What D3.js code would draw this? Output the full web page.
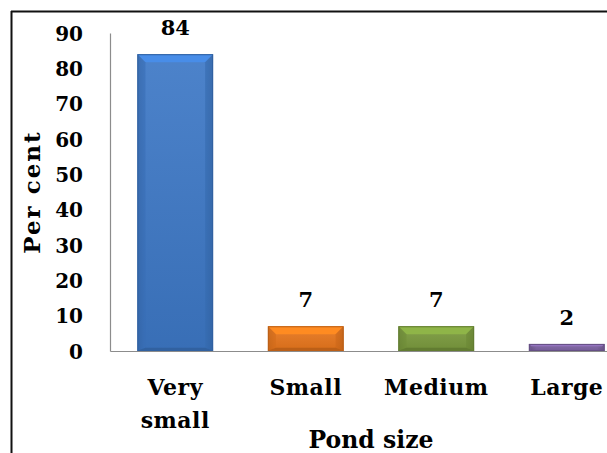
<!DOCTYPE html>
<html>
<head>
<meta charset="utf-8">
<script src="https://cdn.jsdelivr.net/npm/d3@7"></script>
<style>
  html, body { margin: 0; padding: 0; background: #fff; }
  svg { display: block; }
</style>
</head>
<body>
<script>
// Share of ponds by size class (%)
const categories = [["Very", "small"], ["Small"], ["Medium"], ["Large"]];
const values = [84, 7, 7, 2];
const yTicks = [0, 10, 20, 30, 40, 50, 60, 70, 80, 90];
const barColors = ["#3d78c6", "#e8761c", "#7a9a3d", "#7d62a3"];
const yTitle = "Per cent";
const xTitle = "Pond size";

const W = 607, H = 453;
const plot = { left: 110, right: 632, top: 33, bottom: 351 };
const FONT = "'DejaVu Serif', serif";

const svg = d3.select("body").append("svg")
  .attr("width", W).attr("height", H);

const defs = svg.append("defs");

const x = d3.scaleBand()
  .domain(d3.range(values.length))
  .range([plot.left, plot.right])
  .paddingInner(0.42)
  .paddingOuter(0.21);

const y = d3.scaleLinear()
  .domain([0, 90])
  .range([plot.bottom, plot.top]);

// Outer chart frame (top and left edges visible)
svg.append("line").attr("x1", 11).attr("x2", W).attr("y1", 11.5).attr("y2", 11.5)
  .attr("stroke", "#111").attr("stroke-width", 2);
svg.append("line").attr("x1", 11.5).attr("x2", 11.5).attr("y1", 11).attr("y2", H)
  .attr("stroke", "#111").attr("stroke-width", 2);

// Gradients for the bevelled bars
barColors.forEach((c, i) => {
  const base = d3.color(c);
  const g = defs.append("linearGradient").attr("id", "body" + i)
    .attr("x1", 0).attr("x2", 1).attr("y1", 0).attr("y2", 0);
  g.append("stop").attr("offset", "0%").attr("stop-color", base.darker(0.5));
  g.append("stop").attr("offset", "10%").attr("stop-color", base);
  g.append("stop").attr("offset", "90%").attr("stop-color", base);
  g.append("stop").attr("offset", "100%").attr("stop-color", base.darker(0.5));
  const v = defs.append("linearGradient").attr("id", "vert" + i)
    .attr("x1", 0).attr("x2", 0).attr("y1", 0).attr("y2", 1);
  v.append("stop").attr("offset", "0%").attr("stop-color", "#fff").attr("stop-opacity", 0.08);
  v.append("stop").attr("offset", "100%").attr("stop-color", "#000").attr("stop-opacity", 0.08);
});

const bars = svg.append("g").selectAll("g.bar")
  .data(values)
  .join("g").attr("class", "bar");

bars.each(function (d, i) {
  const g = d3.select(this);
  const x0 = x(i), w = x.bandwidth();
  const y0 = y(d), y1 = y(0), h = y1 - y0;
  const b = Math.min(8, h / 3);
  const base = d3.color(barColors[i]);

  g.append("rect").attr("x", x0).attr("y", y0).attr("width", w).attr("height", h)
    .attr("fill", `url(#body${i})`);
  g.append("rect").attr("x", x0).attr("y", y0).attr("width", w).attr("height", h)
    .attr("fill", `url(#vert${i})`);
  // top bevel
  g.append("path")
    .attr("d", `M${x0},${y0}L${x0 + w},${y0}L${x0 + w - b},${y0 + b}L${x0 + b},${y0 + b}Z`)
    .attr("fill", base.brighter(0.45));
  // left and right bevels
  g.append("path")
    .attr("d", `M${x0},${y0}L${x0 + b},${y0 + b}L${x0 + b},${y1 - b * 0.4}L${x0},${y1}Z`)
    .attr("fill", base.darker(0.25)).attr("opacity", 0.6);
  g.append("path")
    .attr("d", `M${x0 + w},${y0}L${x0 + w - b},${y0 + b}L${x0 + w - b},${y1 - b * 0.4}L${x0 + w},${y1}Z`)
    .attr("fill", base.darker(0.35)).attr("opacity", 0.6);
  // bottom bevel
  g.append("path")
    .attr("d", `M${x0},${y1}L${x0 + b},${y1 - b * 0.4}L${x0 + w - b},${y1 - b * 0.4}L${x0 + w},${y1}Z`)
    .attr("fill", base.darker(0.6));
  g.append("rect").attr("x", x0 + 0.5).attr("y", y0 + 0.5).attr("width", w - 1).attr("height", h - 1)
    .attr("fill", "none").attr("stroke", base.darker(0.6)).attr("stroke-width", 1);
});

// Axes
const yAxis = d3.axisLeft(y).tickValues(yTicks).tickSize(0).tickPadding(0);
const yg = svg.append("g").attr("transform", `translate(${plot.left},0)`).call(yAxis)
  .attr("font-family", FONT).attr("font-size", 20).attr("font-weight", "bold");
yg.select(".domain").attr("stroke", "#8c8c8c").attr("stroke-width", 1.2);
yg.selectAll(".tick text")
  .attr("x", 83 - plot.left).attr("dy", "0.36em")
  .attr("fill", "#000");

const xAxis = d3.axisBottom(x).tickSize(0).tickFormat("");
const xg = svg.append("g").attr("transform", `translate(0,${plot.bottom})`).call(xAxis);
xg.select(".domain").attr("stroke", "#8c8c8c").attr("stroke-width", 1.2);

const txt = svg.append("g")
  .attr("font-family", FONT).attr("font-weight", "bold").attr("fill", "#000");

// Category labels
const cat = txt.append("g").selectAll("text")
  .data(categories)
  .join("text")
  .attr("text-anchor", "middle")
  .attr("font-size", 22)
  .attr("letter-spacing", "0.5px")
  .attr("transform", (d, i) => `translate(${x(i) + x.bandwidth() / 2},395)`);
cat.selectAll("tspan")
  .data(d => d)
  .join("tspan")
  .attr("x", 0)
  .attr("y", (d, j) => j * 33)
  .text(d => d);

// Value labels
txt.append("g").selectAll("text")
  .data(values)
  .join("text")
  .attr("text-anchor", "middle")
  .attr("font-size", 21)
  .attr("x", (d, i) => x(i) + x.bandwidth() / 2)
  .attr("y", d => y(d) - 19)
  .text(d => d);

// Axis titles
txt.append("text")
  .attr("text-anchor", "middle")
  .attr("font-size", 23.5)
  .attr("transform", `translate(${(plot.left + plot.right) / 2},448)`)
  .text(xTitle);

txt.append("text")
  .attr("text-anchor", "middle")
  .attr("font-size", 23)
  .attr("letter-spacing", "2px")
  .attr("transform", `translate(40,192) rotate(-90)`)
  .text(yTitle);
</script>
</body>
</html>
